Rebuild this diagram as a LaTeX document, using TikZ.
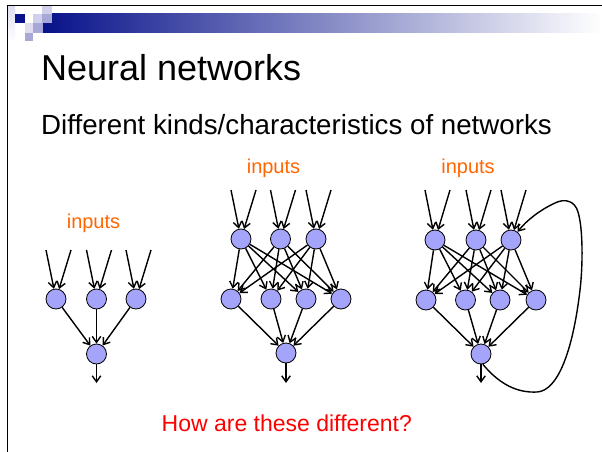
\documentclass[tikz,border=0pt]{standalone}
\usepackage{fontspec}
\setmainfont[Ligatures=NoCommon]{Liberation Sans}
\usetikzlibrary{arrows.meta}
\definecolor{navy}{RGB}{8,18,138}
\definecolor{lavlight}{RGB}{208,208,234}
\definecolor{lavmid}{RGB}{168,168,216}
\definecolor{lavpale}{RGB}{222,222,240}
\definecolor{neuronfill}{RGB}{164,164,250}
\definecolor{inputorange}{RGB}{255,102,0}
\definecolor{askred}{RGB}{255,0,0}
\begin{document}
\begin{tikzpicture}[x=1pt,y=-1pt,
  neuron/.style={circle,draw=black,line width=0.8pt,fill=neuronfill,minimum size=20pt,inner sep=0pt},
  arr/.style={line width=1.4pt,-{Straight Barb[length=6pt,width=8.5pt]}},
  inlab/.style={anchor=base,inner sep=0pt,text=inputorange,font=\fontsize{20}{24}\selectfont},
  txt/.style={anchor=base west,inner sep=0pt}]
\useasboundingbox (0,0) rectangle (602,452);
\fill[white] (0,0) rectangle (602,452);

% slide header: gradient bar and square ornament
\shade[left color=navy,right color=white] (43,14) rectangle (602,33);
\shade[top color=lavpale,bottom color=white] (8,6) rectangle (15,41);
\fill[lavlight] (42,6) rectangle (52,14);
\fill[navy] (15,14) rectangle (25,23);
\fill[lavlight] (33,14) rectangle (42,23);
\fill[lavmid] (42,14) rectangle (52,23);
\fill[lavpale] (25,23) rectangle (33,33);
\fill[lavmid] (33,23) rectangle (43,33);
\fill[lavmid] (25,33) rectangle (33,41);
\draw[line width=1.4pt] (7.3,452) -- (7.3,5.7) -- (602,5.7);

% titles
\node[txt,font=\fontsize{36}{40}\selectfont] (title) at (41,81) {Neural networks};
\node[txt,font=\fontsize{27.7}{32}\selectfont] (subtitle) at (41,134) {Different kinds/characteristics of networks};
\node[txt,text=askred,font=\fontsize{23}{27}\selectfont] (question) at (161.5,431) {How are these different?};

% input labels
\node[inlab] (inA) at (93.5,228) {inputs};
\node[inlab] (inB) at (273.5,173) {inputs};
\node[inlab] (inC) at (468,173) {inputs};

% network A: single layer feeding one output
\node[neuron] (a1) at (56,299) {};
\node[neuron] (a2) at (96.5,299) {};
\node[neuron] (a3) at (136,299) {};
\node[neuron] (ao) at (96.5,354) {};
\coordinate (ae) at (96.5,383);
\foreach \n/\x in {a1/56,a2/96.5,a3/136}{
  \coordinate (\n-l) at (\x-10,250);
  \coordinate (\n-r) at (\x+15,250);
  \draw[arr] (\n-l) -- (\n);
  \draw[arr] (\n-r) -- (\n);
  \draw[arr] (\n) -- (ao);
}
\draw[arr] (ao) -- (ae);

% network B: feed-forward with a hidden layer
\node[neuron] (b1) at (241,239) {};
\node[neuron] (b2) at (280.5,239) {};
\node[neuron] (b3) at (316,239) {};
\node[neuron] (bh1) at (231,299) {};
\node[neuron] (bh2) at (271,299) {};
\node[neuron] (bh3) at (306,299) {};
\node[neuron] (bh4) at (341,299) {};
\node[neuron] (bo) at (286,353) {};
\coordinate (be) at (286,383);
\foreach \n/\x in {b1/241,b2/280.5,b3/316}{
  \coordinate (\n-l) at (\x-10,190);
  \coordinate (\n-r) at (\x+15,190);
  \draw[arr] (\n-l) -- (\n);
  \draw[arr] (\n-r) -- (\n);
  \foreach \t in {bh1,bh2,bh3,bh4}{\draw[arr] (\n) -- (\t);}
}
\foreach \h in {bh1,bh2,bh3,bh4}{\draw[arr] (\h) -- (bo);}
\draw[arr] (bo) -- (be);

% network C: same structure with a feedback loop
\node[neuron] (c1) at (435,240) {};
\node[neuron] (c2) at (476,240) {};
\node[neuron] (c3) at (511,240) {};
\node[neuron] (ch1) at (426,300) {};
\node[neuron] (ch2) at (465.5,300) {};
\node[neuron] (ch3) at (500,300) {};
\node[neuron] (ch4) at (536,300) {};
\node[neuron] (co) at (481,354) {};
\coordinate (ce) at (481,383);
\foreach \n/\x in {c1/435,c2/476,c3/511}{
  \coordinate (\n-l) at (\x-10,190);
  \coordinate (\n-r) at (\x+15,190);
  \draw[arr] (\n-l) -- (\n);
  \draw[arr] (\n-r) -- (\n);
  \foreach \t in {ch1,ch2,ch3,ch4}{\draw[arr] (\n) -- (\t);}
}
\foreach \h in {ch1,ch2,ch3,ch4}{\draw[arr] (\h) -- (co);}
\draw[arr] (co) -- (ce);
\draw[arr] (co.-80) .. controls (500,385) and (518,393) .. (537,392)
  .. controls (558,391) and (573,350) .. (580,290)
  .. controls (583,265) and (583,228) .. (578,212)
  .. controls (575,201) and (565,198) .. (555,203)
  .. controls (540,210) and (527,220) .. (c3);
\end{tikzpicture}
\end{document}
